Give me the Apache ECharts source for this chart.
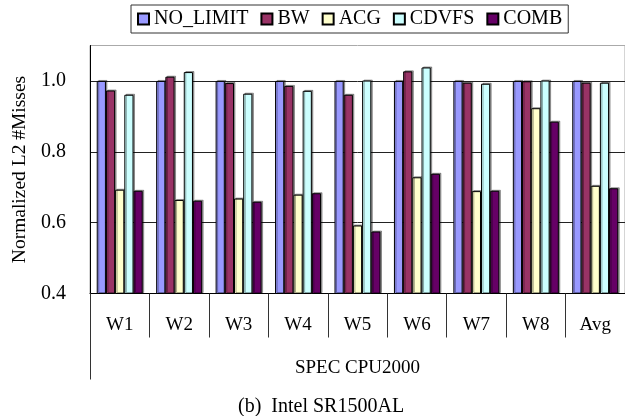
<!DOCTYPE html>
<html>
<head>
<meta charset="utf-8">
<script src="https://cdn.jsdelivr.net/npm/echarts@6/dist/echarts.min.js"></script>
<style>
  html, body { margin: 0; padding: 0; background: #fff; }
  #chart { width: 625px; height: 416px; }
</style>
</head>
<body>
<div id="chart"></div>
<script>
// Workload categories along the x axis
const categories = ['W1', 'W2', 'W3', 'W4', 'W5', 'W6', 'W7', 'W8', 'Avg'];

// Normalized L2 miss counts per policy
const noLimit = [1.000, 1.000, 1.000, 1.000, 1.000, 1.000, 1.000, 1.000, 1.000];
const bw      = [0.973, 1.012, 0.994, 0.986, 0.961, 1.027, 0.995, 0.999, 0.995];
const acg     = [0.693, 0.664, 0.668, 0.679, 0.592, 0.728, 0.689, 0.923, 0.704];
const cdvfs   = [0.961, 1.025, 0.964, 0.972, 1.001, 1.038, 0.992, 1.001, 0.995];
const comb    = [0.690, 0.662, 0.659, 0.683, 0.575, 0.738, 0.690, 0.885, 0.697];

const seriesNames = ['NO_LIMIT', 'BW', 'ACG', 'CDVFS', 'COMB'];
const seriesValues = [noLimit, bw, acg, cdvfs, comb];
const seriesColors = ['#9999ff', '#993366', '#ffffcc', '#ccffff', '#660066'];

const FONT = 'Liberation Serif';

const chart = echarts.init(document.getElementById('chart'), null, { renderer: 'canvas' });

const series = seriesNames.map((name, i) => ({
  name: name,
  type: 'bar',
  xAxisIndex: 0,
  yAxisIndex: 0,
  data: seriesValues[i],
  barWidth: 9.2,
  barGap: '0%',
  itemStyle: {
    color: seriesColors[i],
    borderColor: '#000',
    borderWidth: 1,
    shadowColor: 'rgba(0,0,0,0.35)',
    shadowOffsetX: 1.5,
    shadowOffsetY: -1,
    shadowBlur: 0
  },
  emphasis: { disabled: true },
  animation: false
}));

chart.setOption({
  animation: false,
  title: {
    text: '(b)  Intel SR1500AL',
    left: 233,
    top: 392,
    textStyle: { fontFamily: FONT, fontSize: 20, fontWeight: 'normal', color: '#000' }
  },
  legend: {
    data: seriesNames,
    left: 131,
    top: 5,
    orient: 'horizontal',
    icon: 'rect',
    itemWidth: 11,
    itemHeight: 11,
    itemGap: 12,
    padding: [4, 6, 4, 6],
    borderColor: '#333',
    borderWidth: 1,
    textStyle: { fontFamily: FONT, fontSize: 20, color: '#000' }
  },
  grid: {
    left: 90,
    top: 45.5,
    width: 536,
    bottom: 122.5,
    show: true,
    borderColor: '#aaa',
    borderWidth: 1,
    containLabel: false
  },
  xAxis: [
    {
      type: 'category',
      data: categories,
      position: 'bottom',
      axisLine: { show: true, lineStyle: { color: '#000', width: 1 } },
      axisTick: { show: true, interval: 0, length: 44, alignWithLabel: false, lineStyle: { color: '#333' } },
      axisLabel: { interval: 0, margin: 22, fontFamily: FONT, fontSize: 19, color: '#000' },
      name: 'SPEC CPU2000',
      nameLocation: 'middle',
      nameGap: 65,
      nameTextStyle: { fontFamily: FONT, fontSize: 19, color: '#000' },
      splitLine: { show: false }
    },
    {
      type: 'category',
      data: [''],
      position: 'bottom',
      axisLine: { show: false },
      axisTick: { show: true, length: 86, lineStyle: { color: '#333' } },
      axisLabel: { show: false },
      splitLine: { show: false }
    }
  ],
  yAxis: {
    type: 'value',
    min: 0.4,
    max: 1.1,
    interval: 0.2,
    axisLine: { show: true, lineStyle: { color: '#000', width: 1 } },
    axisTick: { show: false },
    axisLabel: {
      margin: 24,
      fontFamily: FONT,
      fontSize: 20,
      color: '#000',
      showMaxLabel: false,
      formatter: v => v.toFixed(1)
    },
    splitLine: { show: true, showMaxLine: false, showMinLine: false, lineStyle: { color: '#222', width: 1 } },
    name: 'Normalized L2 #Misses',
    nameLocation: 'middle',
    nameGap: 57,
    nameTextStyle: { fontFamily: FONT, fontSize: 19.5, color: '#000' }
  },
  series: series
});
</script>
</body>
</html>
